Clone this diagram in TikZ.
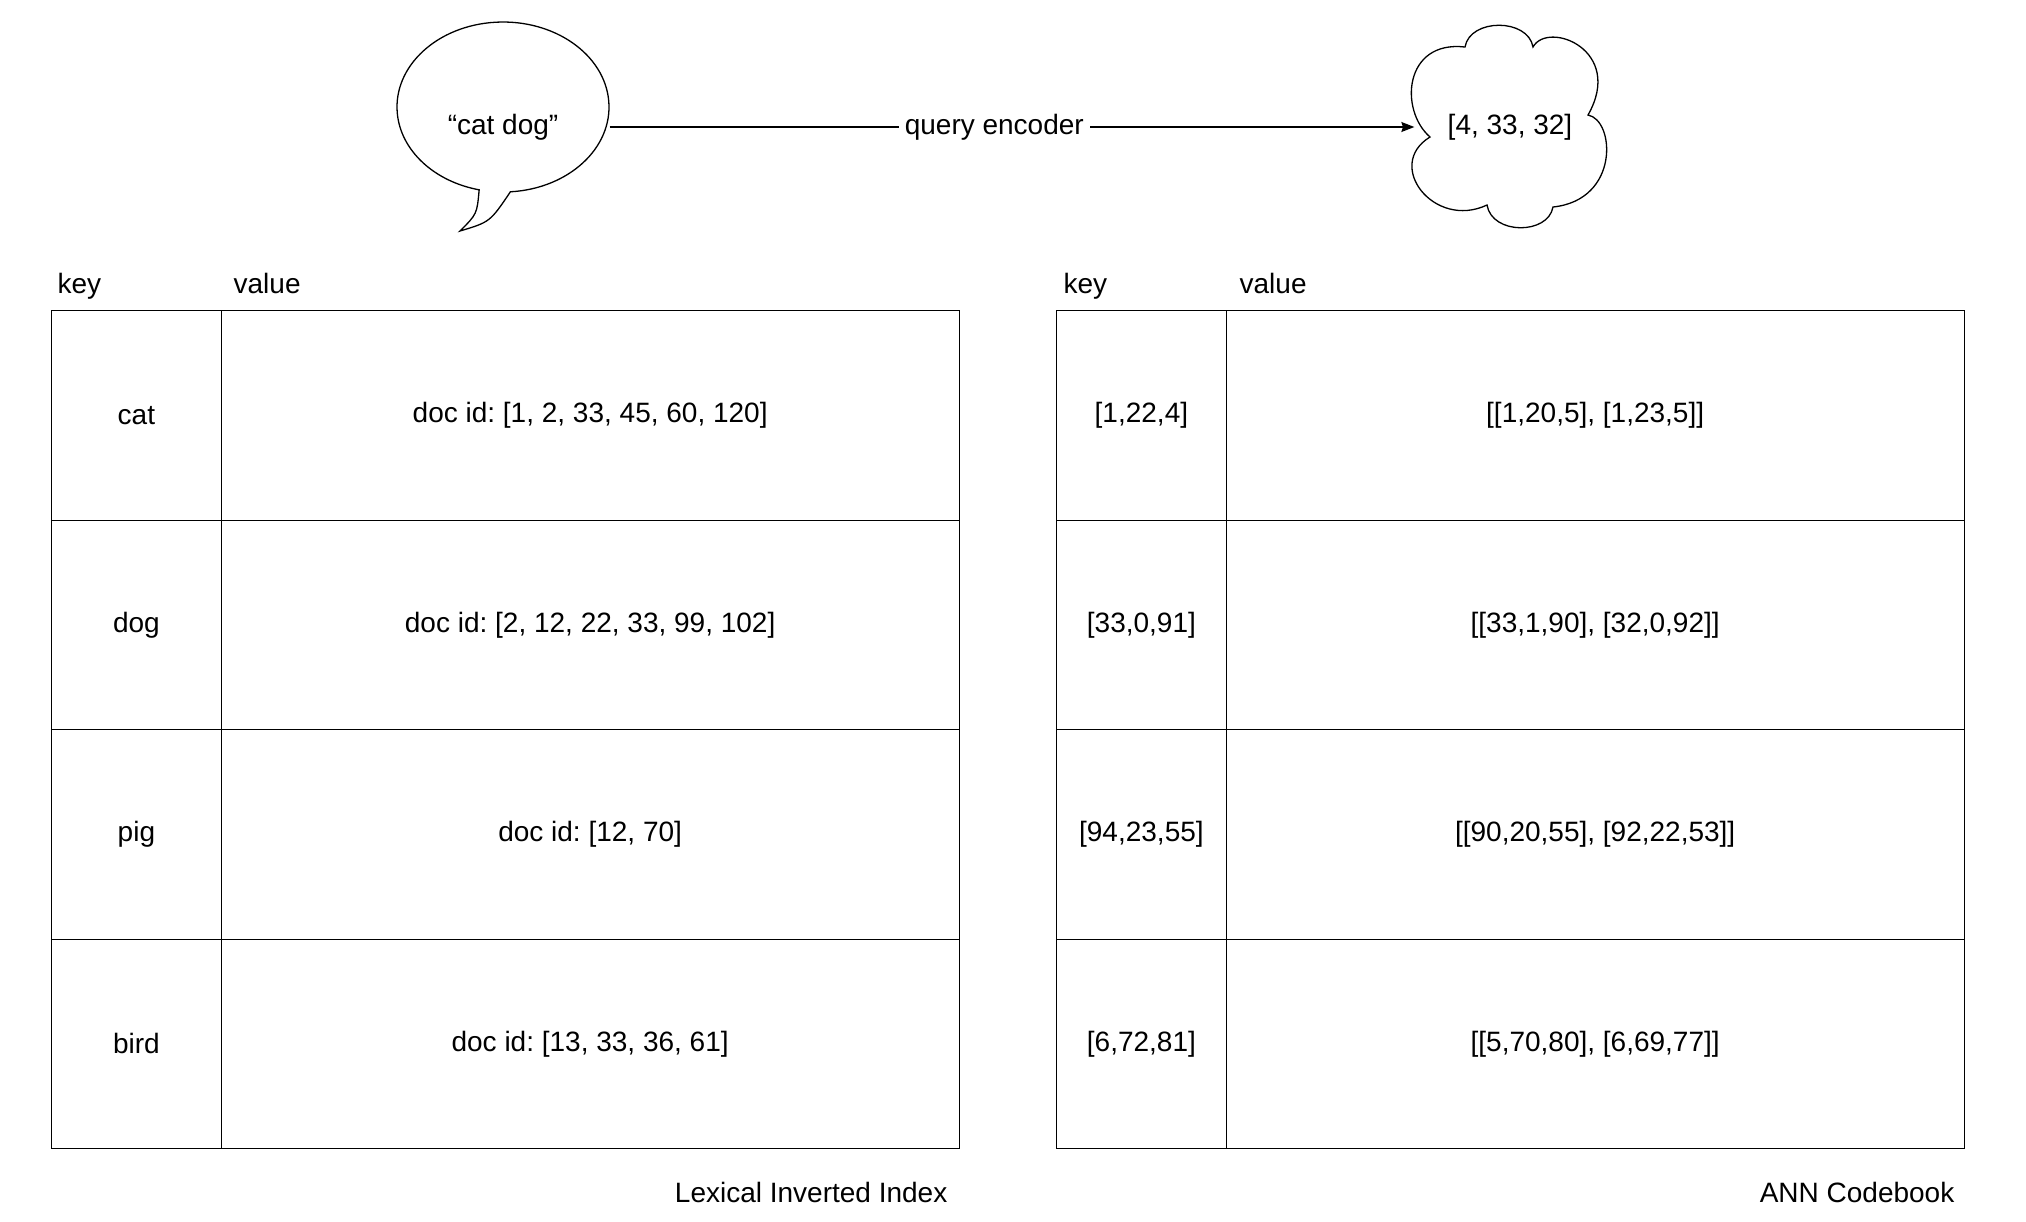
\documentclass[tikz,border=0pt]{standalone}
\usepackage{fontspec}
\setmainfont{Liberation Sans}
\usetikzlibrary{arrows.meta}
\frenchspacing
\begin{document}
\begin{tikzpicture}[x=0.5pt,y=-0.5pt,line width=0.65pt,
  every node/.style={font=\fontsize{14}{17}\selectfont,inner sep=0pt},
  keycell/.style={draw,anchor=north west,minimum width=84.75pt,minimum height=104.75pt},
  valcell/.style={draw,anchor=north west,minimum width=369pt,minimum height=104.75pt},
  headtxt/.style={anchor=base west},
  captxt/.style={anchor=base east},
  flow/.style={-{Stealth[length=6.5pt,width=5pt,inset=0.8pt]}}
]
\useasboundingbox (0,0) rectangle (2026,1222);

% speech bubble
\draw (510.4,191.8) arc[start angle=86,end angle=-257,x radius=106,y radius=85]
  .. controls (477,214) .. (460,231) .. controls (490,222) .. (510.4,191.8) -- cycle;
\node[minimum width=106pt,minimum height=104.5pt] (bubble) at (503,127) {“cat dog”};

% cloud
\draw (1430,137) .. controls (1399,110) and (1404,40) .. (1465,47)
  .. controls (1470,18) and (1528,18) .. (1533,47)
  .. controls (1548,20) and (1625,50) .. (1588,115)
  .. controls (1615,120) and (1620,200) .. (1553,207)
  .. controls (1548,235) and (1492,235) .. (1487,205)
  .. controls (1434,230) and (1384,165) .. (1430,137) -- cycle;
\node[minimum width=95pt,minimum height=100pt] (cloud) at (1510,127) {[4, 33, 32]};

\draw[flow] (bubble.east) -- node[fill=white,pos=0.478,inner xsep=3pt,inner ysep=2pt] (enc) {query encoder} (cloud.west);

% left table
\node[headtxt] (lkeyh) at (57,293) {key};
\node[headtxt] (lvalh) at (233,293) {value};
\node[keycell] (lk1) at (51,310) {cat};
\node[valcell] (lv1) at (220.5,310) {doc id: [1, 2, 33, 45, 60, 120]};
\node[keycell] (lk2) at (51,519.5) {dog};
\node[valcell] (lv2) at (220.5,519.5) {doc id: [2, 12, 22, 33, 99, 102]};
\node[keycell] (lk3) at (51,729) {pig};
\node[valcell] (lv3) at (220.5,729) {doc id: [12, 70]};
\node[keycell] (lk4) at (51,938.5) {bird};
\node[valcell] (lv4) at (220.5,938.5) {doc id: [13, 33, 36, 61]};
\node[captxt] (lcap) at (948,1202) {Lexical Inverted Index};

% right table
\node[headtxt] (rkeyh) at (1063,293) {key};
\node[headtxt] (rvalh) at (1239,293) {value};
\node[keycell] (rk1) at (1056,310) {[1,22,4]};
\node[valcell] (rv1) at (1225.5,310) {[[1,20,5], [1,23,5]]};
\node[keycell] (rk2) at (1056,519.5) {[33,0,91]};
\node[valcell] (rv2) at (1225.5,519.5) {[[33,1,90], [32,0,92]]};
\node[keycell] (rk3) at (1056,729) {[94,23,55]};
\node[valcell] (rv3) at (1225.5,729) {[[90,20,55], [92,22,53]]};
\node[keycell] (rk4) at (1056,938.5) {[6,72,81]};
\node[valcell] (rv4) at (1225.5,938.5) {[[5,70,80], [6,69,77]]};
\node[captxt] (rcap) at (1955,1202) {ANN Codebook};
\end{tikzpicture}
\end{document}
